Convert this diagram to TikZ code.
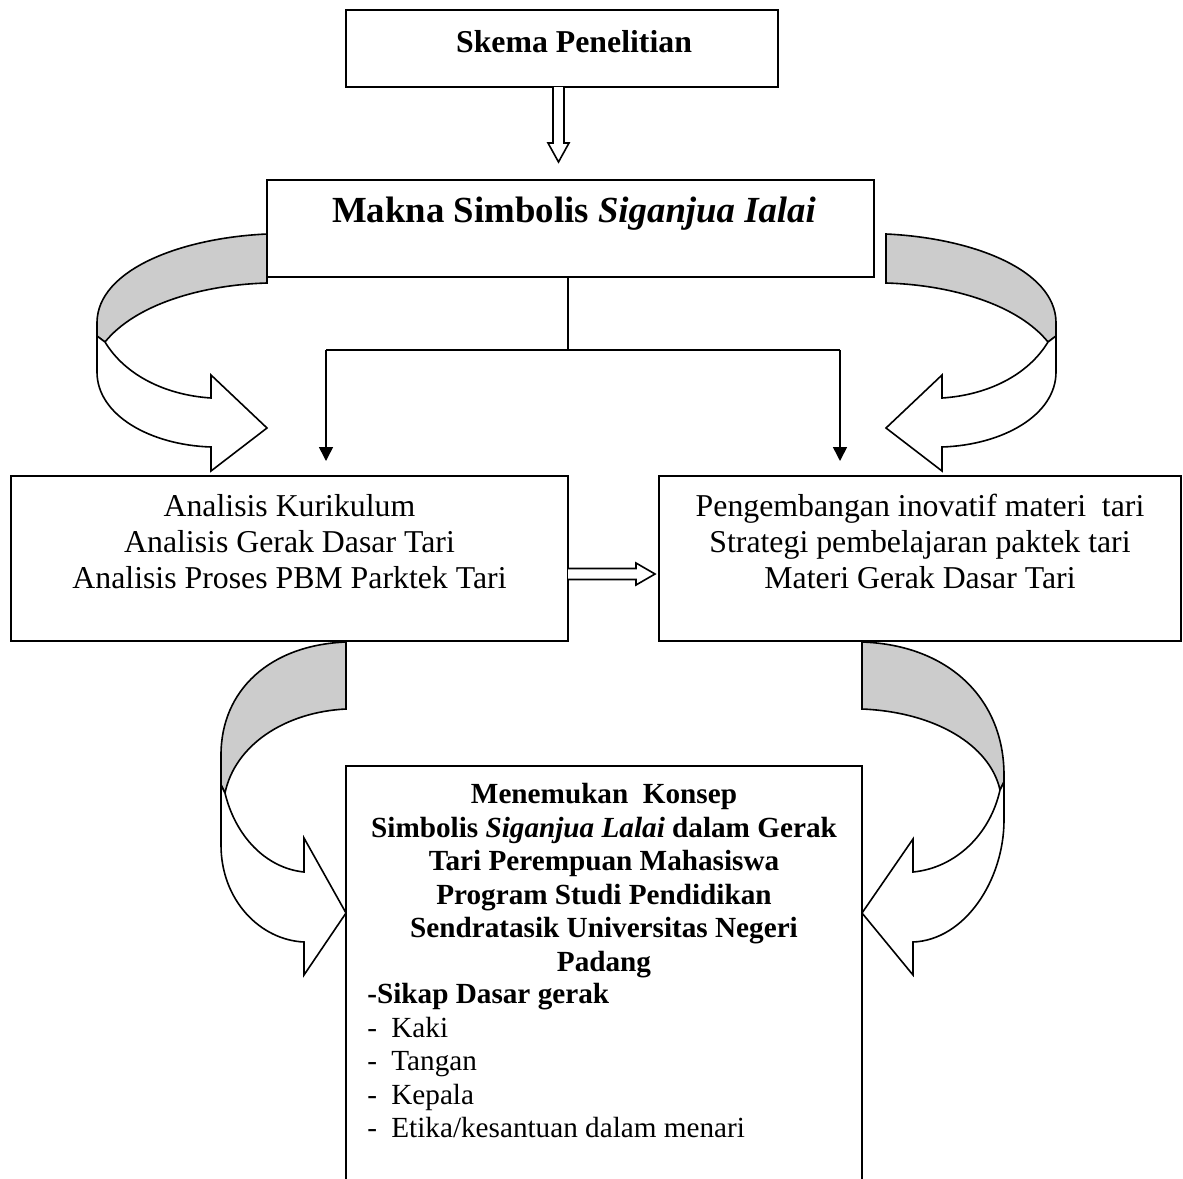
\documentclass[tikz,border=0pt]{standalone}
\usepackage{fontspec}
\setmainfont{Liberation Serif}
\usetikzlibrary{arrows.meta,calc}
\begin{document}
\begin{tikzpicture}[x=0.5pt,y=-0.5pt,
  box/.style={draw,line width=1pt,inner sep=0pt},
  conn/.style={line width=0.8pt},
  arr/.style={conn,-{Triangle[width=7pt,length=7pt]}},
  band/.style={draw,line width=0.8pt,fill=black!20,line join=miter},
  front/.style={draw,line width=0.8pt,fill=white,line join=miter},
  midtxt/.style={font=\fontsize{15.9}{18}\selectfont,align=center,inner sep=0pt},
  bottxt/.style={font=\fontsize{14.6}{16.75}\selectfont,inner sep=0pt}
]
\useasboundingbox (0,0) rectangle (1183,1178);
\clip (0,0) rectangle (1183,1178);

% boxes
\node[box,minimum width=216pt,minimum height=38.5pt] (skema) at (562,48.5) {};
\node[box,minimum width=303.5pt,minimum height=48.5pt] (makna) at (570.5,228.5) {};
\node[box,minimum width=278.5pt,minimum height=82.5pt] (ana) at (289.5,558.5) {};
\node[box,minimum width=261pt,minimum height=82.5pt] (peng) at (920,558.5) {};
\node[box,minimum width=258pt,minimum height=217pt] (konsep) at (604,983) {};

% texts
\node[anchor=base,inner sep=0pt,font=\bfseries\fontsize{15.9}{18}\selectfont] (skemat) at (574,52) {Skema Penelitian};
\node[anchor=base,inner sep=0pt,font=\bfseries\fontsize{18.4}{21}\selectfont] (maknat) at (574,222) {Makna Simbolis \textit{Siganjua Ialai}};
\node[midtxt,anchor=north] (anat) at (289.5,494) {Analisis Kurikulum\\Analisis Gerak Dasar Tari\\Analisis Proses PBM Parktek Tari};
\node[midtxt,anchor=north] (pengt) at (920,494) {Pengembangan inovatif materi~ tari\\Strategi pembelajaran paktek tari\\Materi Gerak Dasar Tari};
\node[bottxt,font=\bfseries\fontsize{14.6}{16.75}\selectfont,align=center,anchor=north] (konsept) at (604,783)
  {Menemukan~ Konsep\\Simbolis \textit{Siganjua Lalai} dalam Gerak\\Tari Perempuan Mahasiswa\\Program Studi Pendidikan\\Sendratasik Universitas Negeri\\Padang};
\node[bottxt,align=left,anchor=north west] (list) at (367,983)
  {\textbf{-Sikap Dasar gerak}\\\makebox[12pt][l]{-}Kaki\\\makebox[12pt][l]{-}Tangan\\\makebox[12pt][l]{-}Kepala\\\makebox[12pt][l]{-}Etika/kesantuan dalam menari};

% hollow arrow skema -> makna
\draw[front] (553,87) -- (553,143) -- (548,143) -- (558.5,162) -- (569,143) -- (564,143) -- (564,87);
% hollow arrow ana -> peng
\draw[front] (568,568.5) -- (636,568.5) -- (636,563) -- (655,574) -- (636,585) -- (636,579.5) -- (568,579.5);

% connectors
\coordinate (split) at (568,350);
\coordinate (lturn) at (326,350);
\coordinate (rturn) at (840,350);
\draw[conn] (makna.south -| split) -- (split);
\draw[conn] (lturn) -- (rturn);
\draw[arr] (lturn) -- ([yshift=7pt]ana.north -| lturn);
\draw[arr] (rturn) -- ([yshift=7pt]peng.north -| rturn);

% curved arrow left top
\draw[band] (267,234) .. controls (180,238) and (98,270) .. (97,322) -- (97,336) -- (105,342)
  .. controls (135,305) and (200,285) .. (267,283) -- cycle;
\draw[front] (105,342) .. controls (125,375) and (165,395) .. (211,398) -- (211,375) -- (267,428)
  -- (211,471) -- (211,447) .. controls (150,445) and (97,415) .. (97,372) -- (97,336) -- cycle;

% curved arrow right top
\draw[band] (886,234) .. controls (973,238) and (1055,270) .. (1056,322) -- (1056,336) -- (1048,342)
  .. controls (1018,305) and (953,285) .. (886,283) -- cycle;
\draw[front] (1048,342) .. controls (1028,375) and (988,395) .. (942,398) -- (942,375) -- (886,428)
  -- (942,471) -- (942,447) .. controls (1003,445) and (1056,415) .. (1056,372) -- (1056,336) -- cycle;

% curved arrow left bottom
\draw[band] (346,642) .. controls (270,645) and (221,690) .. (221,755) -- (221,785) -- (225,793)
  .. controls (235,745) and (285,712) .. (346,709) -- cycle;
\draw[front] (225,793) .. controls (235,835) and (265,868) .. (304,872) -- (304,838) -- (346,913)
  -- (304,975) -- (304,942) .. controls (260,940) and (221,900) .. (221,845) -- (221,785) -- cycle;

% curved arrow right bottom
\draw[band] (862,642) .. controls (950,645) and (1004,700) .. (1004,775) -- (1004,782) -- (1000,790)
  .. controls (990,745) and (935,712) .. (862,709) -- cycle;
\draw[front] (1000,790) .. controls (990,835) and (955,868) .. (913,872) -- (913,839) -- (862,913)
  -- (913,975) -- (913,942) .. controls (965,940) and (1004,880) .. (1004,820) -- (1004,782) -- cycle;
\end{tikzpicture}
\end{document}
